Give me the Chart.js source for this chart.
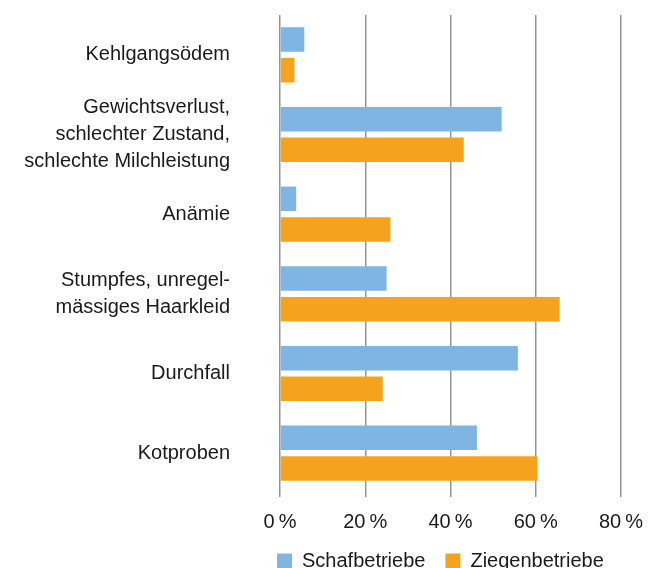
<!DOCTYPE html>
<html>
<head>
<meta charset="utf-8">
<script src="https://cdn.jsdelivr.net/npm/chart.js@4"></script>
<style>
  html, body { margin: 0; padding: 0; background: #fff; }
</style>
</head>
<body>
<canvas id="chart" width="665" height="568"></canvas>
<script>
// categories (multi-line labels) and values in percent
const categories = [
    ['Kehlgangsödem'],
    ['Gewichtsverlust,', 'schlechter Zustand,', 'schlechte Milchleistung'],
    ['Anämie'],
    ['Stumpfes, unregel-', 'mässiges Haarkleid'],
    ['Durchfall'],
    ['Kotproben']
];
const schafbetriebe = [5.7, 52.0, 3.8, 25.0, 55.8, 46.2];
const ziegenbetriebe = [3.4, 43.1, 25.9, 65.6, 24.1, 60.4];
const xTicks = [0, 20, 40, 60, 80];

const fontFamily = '"Liberation Sans", Arial, sans-serif';
Chart.defaults.font.family = fontFamily;
Chart.defaults.color = '#1a1a1a';

// move the legend under the plot, like in the original
const legendShift = {
    id: 'legendShift',
    afterLayout(chart) {
        const lg = chart.legend;
        if (!lg) return;
        const w = lg.right - lg.left;
        lg.left = 257;
        lg.right = 257 + w;
        lg.top -= 3;
    }
};

const ctx = document.getElementById('chart').getContext('2d');
new Chart(ctx, {
    type: 'bar',
    data: {
        labels: categories,
        datasets: [
            {
                label: 'Schafbetriebe',
                data: schafbetriebe,
                backgroundColor: '#7fb5e3',
                categoryPercentage: 0.77,
                barPercentage: 0.8
            },
            {
                label: 'Ziegenbetriebe',
                data: ziegenbetriebe,
                backgroundColor: '#f5a31e',
                categoryPercentage: 0.77,
                barPercentage: 0.8
            }
        ]
    },
    options: {
        indexAxis: 'y',
        responsive: false,
        animation: false,
        layout: {
            padding: { top: 15, right: 44, left: 0, bottom: 0 }
        },
        scales: {
            x: {
                min: 0,
                max: 80,
                afterBuildTicks: (scale) => {
                    scale.ticks = xTicks.map(v => ({ value: v }));
                },
                afterFit: (scale) => { scale.height = 41; },
                ticks: {
                    callback: (v) => v + '\u2009%',
                    font: { size: 20 },
                    padding: 13,
                    color: '#1a1a1a'
                },
                grid: {
                    color: '#959595',
                    lineWidth: 1.5,
                    tickLength: 4
                },
                border: { display: false }
            },
            y: {
                afterFit: (scale) => {
                    scale.width = 280;
                    scale.paddingTop = 0;
                    scale.paddingBottom = 0;
                },
                ticks: {
                    autoSkip: false,
                    font: { size: 20, lineHeight: 1.35 },
                    padding: 50,
                    color: '#1a1a1a'
                },
                grid: { display: false, drawTicks: false },
                border: { display: false }
            }
        },
        plugins: {
            legend: {
                position: 'bottom',
                align: 'start',
                maxHeight: 34,
                labels: {
                    boxWidth: 15,
                    boxHeight: 15,
                    padding: 20,
                    font: { size: 20 },
                    color: '#1a1a1a'
                }
            },
            tooltip: { enabled: false }
        }
    },
    plugins: [legendShift]
});
</script>
</body>
</html>
